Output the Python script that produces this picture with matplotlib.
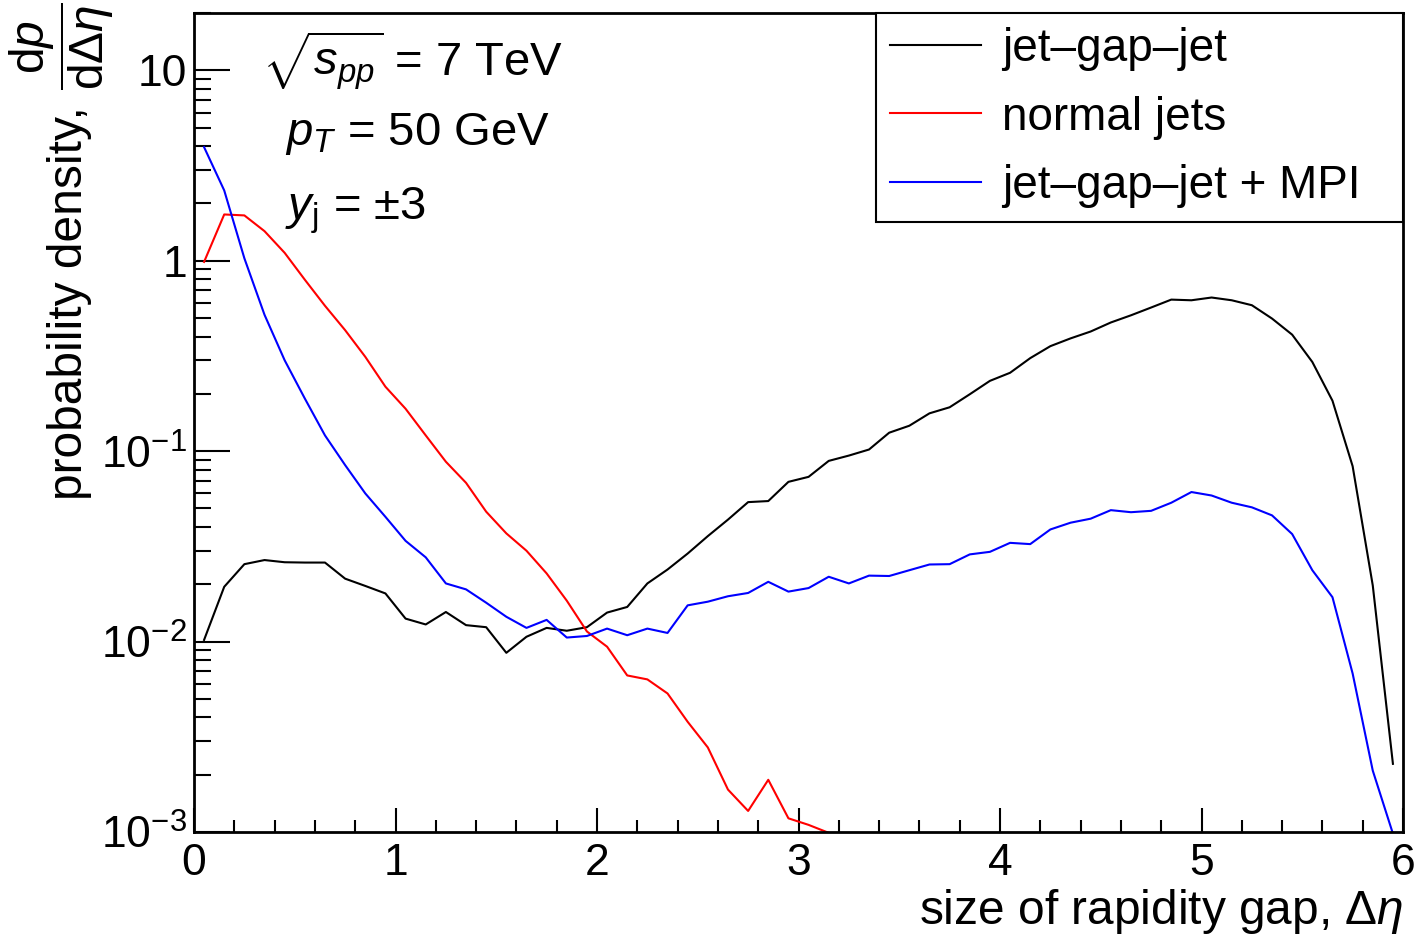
import numpy as np
import matplotlib
matplotlib.use('Agg')
import matplotlib.pyplot as plt
from matplotlib.ticker import FixedLocator, LogLocator, MultipleLocator, NullFormatter

plt.rcParams['font.family'] = ['Liberation Sans', 'DejaVu Sans']
plt.rcParams['mathtext.fontset'] = 'custom'
plt.rcParams['mathtext.rm'] = 'Liberation Sans'
plt.rcParams['mathtext.it'] = 'Liberation Sans:italic'
plt.rcParams['mathtext.sf'] = 'Liberation Sans'

# bin centres of the rapidity-gap histogram (bin width 0.1)
delta_eta = np.round(np.arange(0.05, 6.0, 0.1), 2)

jet_gap_jet = [0.0102, 0.0194, 0.0255, 0.0268, 0.0261, 0.0260, 0.0260, 0.0214, 0.0196, 0.0179,
               0.0132, 0.0123, 0.0143, 0.0122, 0.0119, 0.00873, 0.0106, 0.0118, 0.0114, 0.0119,
               0.0142, 0.0152, 0.0202, 0.0239, 0.029, 0.0358, 0.0437, 0.054, 0.0547, 0.069,
               0.0733, 0.0889, 0.0948, 0.102, 0.125, 0.136, 0.158, 0.170, 0.199, 0.234,
               0.258, 0.308, 0.356, 0.391, 0.425, 0.474, 0.517, 0.568, 0.625, 0.620,
               0.641, 0.620, 0.584, 0.497, 0.409, 0.294, 0.184, 0.0834, 0.0197, 0.00228]

normal_jets = [0.986, 1.75, 1.73, 1.43, 1.10, 0.795, 0.58, 0.432, 0.313, 0.218,
               0.167, 0.121, 0.088, 0.0682, 0.0481, 0.0370, 0.0300, 0.0228, 0.0164, 0.0113,
               0.0094, 0.00664, 0.00633, 0.00534, 0.00379, 0.00278, 0.00167, 0.00129, 0.00188, 0.00118,
               0.00109, 0.00099]

jet_gap_jet_mpi = [3.95, 2.34, 1.03, 0.52, 0.30, 0.189, 0.121, 0.0845, 0.060, 0.0452,
                   0.0338, 0.0277, 0.0202, 0.0188, 0.0160, 0.0135, 0.0118, 0.0130, 0.0105, 0.0107,
                   0.0117, 0.0108, 0.0117, 0.0111, 0.0155, 0.0162, 0.0173, 0.0180, 0.0206, 0.0183,
                   0.0191, 0.0219, 0.0202, 0.0222, 0.0221, 0.0237, 0.0254, 0.0255, 0.0287, 0.0296,
                   0.0330, 0.0325, 0.0388, 0.0421, 0.0442, 0.0490, 0.0478, 0.0486, 0.0536, 0.0610,
                   0.0585, 0.0536, 0.0507, 0.0460, 0.0367, 0.0237, 0.0171, 0.0068, 0.0021, 0.00098]

fig = plt.figure(figsize=(14.22, 9.40), dpi=100)
ax = fig.add_axes([194 / 1422, 1 - 832 / 940, (1403 - 194) / 1422, (832 - 13) / 940])

lw = 1.5
ax.plot(delta_eta, jet_gap_jet, color='black', lw=lw, label='jet\u2013gap\u2013jet')
ax.plot(delta_eta[:len(normal_jets)], normal_jets, color='#ff0000', lw=lw, label='normal jets')
ax.plot(delta_eta, jet_gap_jet_mpi, color='#0000ff', lw=lw, label='jet\u2013gap\u2013jet + MPI')

ax.set_yscale('log')
ax.set_xlim(0, 6)
ax.set_ylim(1e-3, 20)

fs = 32
ax.xaxis.set_major_locator(MultipleLocator(1))
ax.xaxis.set_minor_locator(MultipleLocator(0.2))
ax.yaxis.set_major_locator(FixedLocator([1e-3, 1e-2, 1e-1, 1, 10]))
ax.yaxis.set_minor_locator(LogLocator(base=10, subs=np.arange(2, 10)))
ax.yaxis.set_minor_formatter(NullFormatter())
ax.set_yticklabels([r'$10^{-3}$', r'$10^{-2}$', r'$10^{-1}$', '1', '10'])
ax.set_xticks([0, 1, 2, 3, 4, 5, 6])
ax.set_xticklabels(['0', '1', '2', '3', '4', '5', '6'])

ax.tick_params(axis='both', which='both', direction='in', top=False, right=False,
               labelsize=fs, width=1.5, color='black')
ax.tick_params(axis='x', which='major', length=17.3, pad=8)
ax.tick_params(axis='x', which='minor', length=8.6)
ax.tick_params(axis='y', which='major', length=26, pad=5)
ax.tick_params(axis='y', which='minor', length=12.5)
for sp in ax.spines.values():
    sp.set_linewidth(2)

ax.set_xlabel(r'size of rapidity gap, $\mathit{\Delta\eta}$', fontsize=34.5, loc='right', labelpad=2)
# y title: text part and the derivative fraction on top of it
fig.text(70 / 1422, 1 - 500 / 940, 'probability density,', rotation=90,
         ha='center', va='bottom', fontsize=34.5)
fig.text(62 / 1422, 1 - 3 / 940, r'$\dfrac{\mathrm{d}\mathit{p}}{\mathrm{d}\mathit{\Delta\eta}}$',
         rotation=90, ha='center', va='top', fontsize=34.5)

fig.text(262 / 1422, 1 - 75 / 940, r'$\sqrt{s_{pp}}$ = 7 TeV', fontsize=34, va='baseline')
fig.text(285 / 1422, 1 - 145 / 940, r'$p_{T}$ = 50 GeV', fontsize=34, va='baseline')
fig.text(285 / 1422, 1 - 220 / 940, r'$y_{\mathrm{j}}$ = $\pm$3', fontsize=34, va='baseline')

x0 = (876 - 194) / (1403 - 194)
leg = ax.legend(loc='upper right', bbox_to_anchor=(x0, 0, 1 - x0, 1), mode='expand',
                borderaxespad=0, fontsize=33,
                handlelength=2.0, handletextpad=0.45, labelspacing=0.54, borderpad=0.3,
                fancybox=False, framealpha=1, edgecolor='black')
leg.get_frame().set_linewidth(1.5)

fig.savefig('out.png', dpi=100)
